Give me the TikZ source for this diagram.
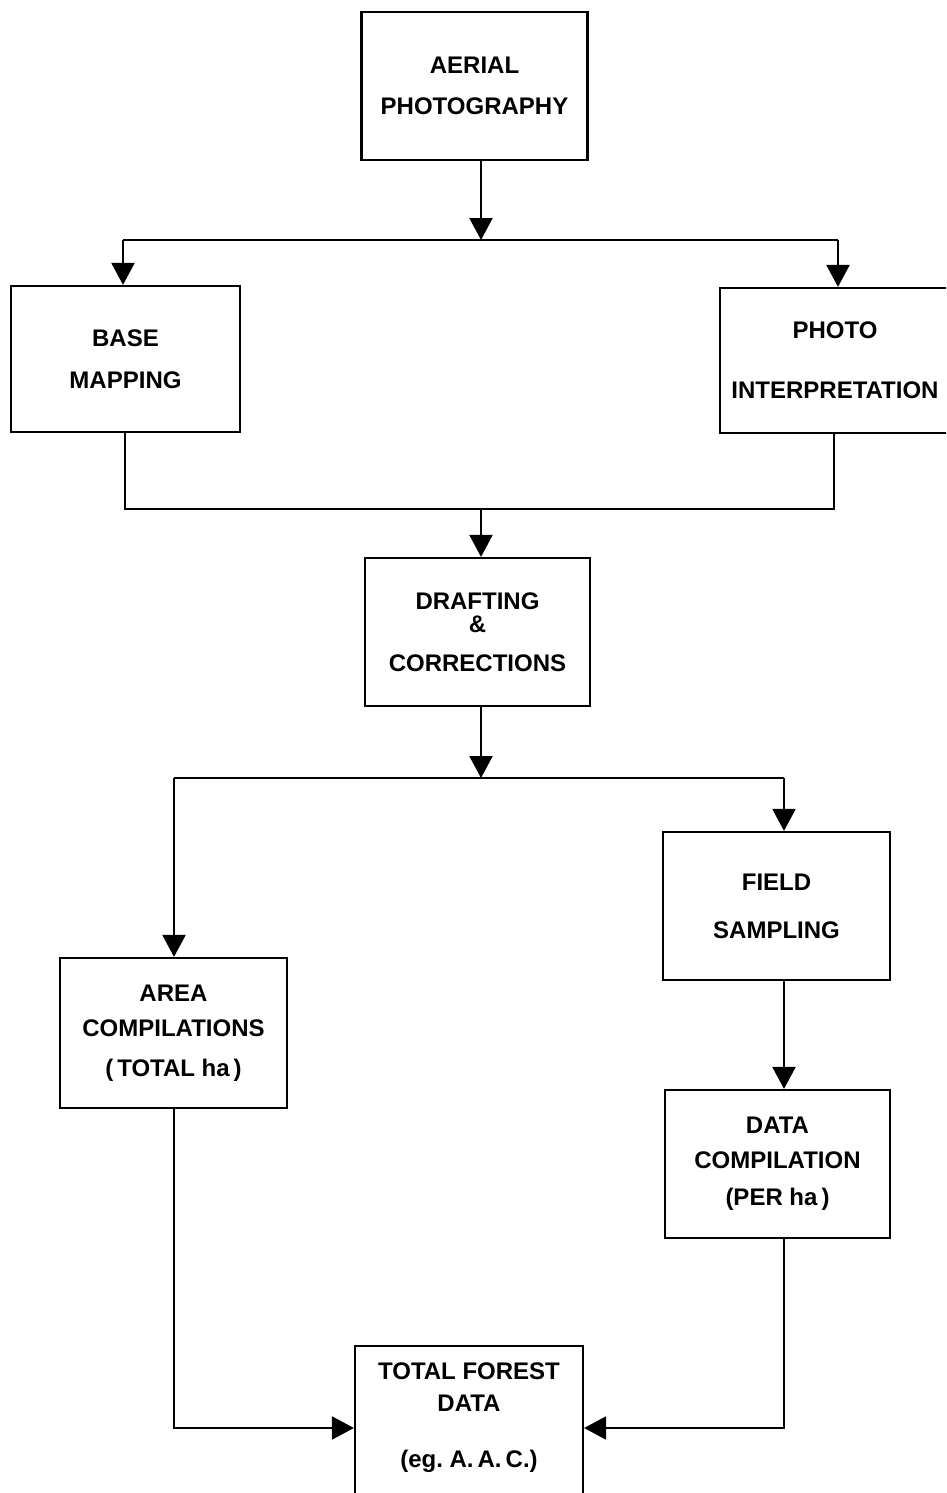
\documentclass[tikz,border=0pt]{standalone}
\usepackage{fontspec}
\setmainfont{Liberation Sans}
\usetikzlibrary{arrows.meta,positioning,calc}

\begin{document}
\begin{tikzpicture}[x=1pt, y=-1pt,
    block/.style={rectangle, draw, line width=2.2pt, minimum width=226pt, minimum height=148pt, align=center, inner sep=0pt, font=\fontsize{24}{35}\selectfont\bfseries},
    line/.style={line width=2.2pt},
    arrow/.style={line width=2.2pt, -{Triangle[width=23pt,length=22pt]}}
]
    \clip (0,0) rectangle (946,1493);
    \fill[white] (0,0) rectangle (946,1493);

    % Photography
    \node[block] (aerial) at (474.5,86) {AERIAL\\[6pt]PHOTOGRAPHY};

    % Mapping and interpretation
    \node[block, minimum width=229pt, minimum height=146pt] (base) at (125.5,359) {BASE\\[7pt]MAPPING};
    \node[block, minimum width=230pt, minimum height=145pt] (photo) at (835,360.5) {PHOTO\\[25pt]INTERPRETATION};

    % Drafting
    \node[block, minimum width=225pt] (drafting) at (477.5,632) {DRAFTING\\[-12pt]\&\\[4pt]CORRECTIONS};

    % Field work
    \node[block, minimum width=227pt] (field) at (776.5,906) {FIELD\\[13pt]SAMPLING};
    \node[block, minimum width=227pt, minimum height=150pt] (area) at (173.5,1033) {AREA\\COMPILATIONS\\[5pt](\,TOTAL ha\,)};
    \node[block, minimum width=225pt] (data) at (777.5,1164) {DATA\\COMPILATION\\[2pt](PER ha\,)};

    % Result
    \node[block, minimum width=228pt, minimum height=170pt] (total) at (469,1431) {TOTAL FOREST\\[-3pt]DATA\\[21pt](eg.\ A.\,A.\,C.)\\[-4pt]~};

    % Junctions
    \coordinate (s1) at (481,240);
    \coordinate (s1l) at (123,240);
    \coordinate (s1r) at (838,240);
    \coordinate (m1) at (481,509);
    \coordinate (m1l) at (125,509);
    \coordinate (m1r) at (834,509);
    \coordinate (s2) at (481,778);
    \coordinate (s2l) at (174,778);
    \coordinate (s2r) at (784,778);
    \coordinate (c1l) at (174,1428);
    \coordinate (c1r) at (784,1428);

    % Arrows
    \draw[arrow] (aerial.south -| s1) -- (s1);
    \draw[line] (s1l) -- (s1r);
    \draw[arrow] (s1l) -- (s1l |- base.north);
    \draw[arrow] (s1r) -- (s1r |- photo.north);
    \draw[line] (m1l |- base.south) -- (m1l) -- (m1r) -- (m1r |- photo.south);
    \draw[arrow] (m1) -- (m1 |- drafting.north);
    \draw[arrow] (drafting.south -| s2) -- (s2);
    \draw[line] (s2l) -- (s2r);
    \draw[arrow] (s2l) -- (s2l |- area.north);
    \draw[arrow] (s2r) -- (s2r |- field.north);
    \draw[arrow] (field.south -| s2r) -- (s2r |- data.north);
    \draw[arrow] (c1l |- area.south) -- (c1l) -- (c1l -| total.west);
    \draw[arrow] (c1r |- data.south) -- (c1r) -- (c1r -| total.east);
\end{tikzpicture}
\end{document}
